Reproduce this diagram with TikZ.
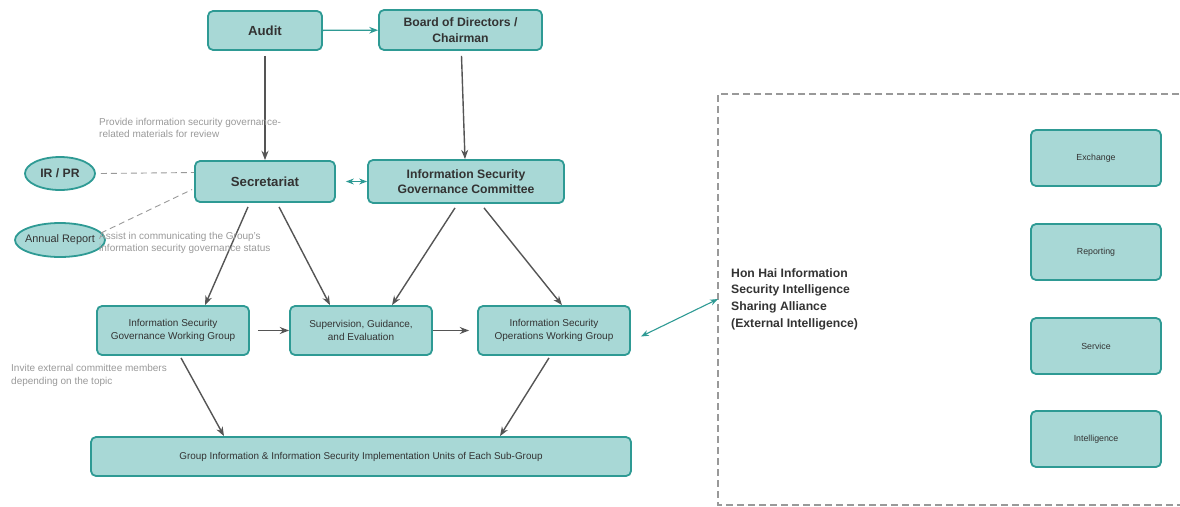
\documentclass[tikz,border=0pt]{standalone}
\usepackage{fontspec}
\setmainfont{Liberation Sans}
\usetikzlibrary{shapes.geometric,arrows.meta}
\definecolor{boxfill}{HTML}{A8D8D6}
\definecolor{boxline}{HTML}{2E9A94}
\definecolor{txt}{HTML}{333333}
\definecolor{arr}{HTML}{555555}
\definecolor{note}{HTML}{999999}
\newcommand{\fs}[1]{\fontsize{#1}{#1}\selectfont}
\begin{document}
\begin{tikzpicture}[x=1pt,y=-1pt,>=Stealth,
  box/.style={draw=boxline,fill=boxfill,line width=1.8pt,rounded corners=5pt,
    text=txt,align=center,inner sep=0pt},
  oval/.style={ellipse,draw=boxline,fill=boxfill,line width=1.8pt,text=txt,inner xsep=-8pt,inner ysep=0pt},
  flow/.style={->,arr,line width=1.4pt},
  link/.style={->,boxline,line width=1.3pt},
  hint/.style={note,line width=0.9pt,dash pattern=on 6pt off 4pt},
  memo/.style={note,align=left,anchor=north west,inner sep=0pt,font=\fs{10}}]
  \clip (0,0) rectangle (1180,506);
  \useasboundingbox (0,0) rectangle (1180,506);
  % 上层
  \node[box,minimum width=114pt,minimum height=39pt,font=\fs{13.2}\bfseries] (audit) at (265,30.5) {Audit};
  \node[box,minimum width=163pt,minimum height=40pt,font=\fs{12.2}\bfseries] (board) at (460.5,30) {Board of Directors /\\[3.5pt]Chairman};
  \node[box,minimum width=140pt,minimum height=41pt,font=\fs{13.2}\bfseries] (secr) at (265,181.5) {Secretariat};
  \node[box,minimum width=196pt,minimum height=43pt,font=\fs{12.2}\bfseries] (isgc) at (466,181.5) {Information Security\\[3pt]Governance Committee};
  % 椭圆
  \node[oval,minimum width=70pt,minimum height=33pt,font=\fs{12.2}\bfseries] (irpr) at (60,173.5) {IR / PR};
  \node[oval,minimum width=90pt,minimum height=34pt,font=\fs{10.9}] (annual) at (60,240) {Annual Report};
  % 工作组
  \node[box,minimum width=152pt,minimum height=49pt,font=\fs{10}] (isgwg) at (173,330.5) {Information Security\\[3.5pt]Governance Working Group};
  \node[box,minimum width=142pt,minimum height=49pt,font=\fs{10}] (sge) at (361,330.5) {Supervision, Guidance,\\[3.5pt]and Evaluation};
  \node[box,minimum width=152pt,minimum height=49pt,font=\fs{10}] (isowg) at (554,330.5) {Information Security\\[3.5pt]Operations Working Group};
  \node[box,minimum width=540pt,minimum height=39pt,font=\fs{9.9}] (units) at (361,456.5) {Group Information \& Information Security Implementation Units of Each Sub-Group};
  % 外部联盟
  \draw[note,line width=1.2pt,dash pattern=on 7pt off 4pt] (1190,94) -- (718,94) -- (718,505) -- (1190,505);
  \coordinate (edge) at (718,299);
  \node[anchor=north west,align=left,inner sep=0pt,text=txt,font=\fs{12.2}\bfseries] (alliance) at (731,268)
    {Hon Hai Information\\[4.6pt]Security Intelligence\\[4.6pt]Sharing Alliance\\[4.6pt](External Intelligence)};
  \foreach \y/\t/\n in {158/Exchange/exch,252/Reporting/rep,346/Service/serv,439/Intelligence/intel}
    \node[box,minimum width=130pt,minimum height=56pt,font=\fs{8.8}] (\n) at (1096,\y) {\t};
  % 连线
  \draw[link] (audit) -- (board);
  \draw[flow] ([yshift=-5pt]audit.south) -- (secr.north);
  \draw[flow] ([xshift=1pt,yshift=-5pt]board.south) -- ([xshift=-1pt]isgc.north);
  \draw[link,<->,line width=1.1pt] ([xshift=10pt]secr.east) -- (isgc.west);
  \draw[flow] ([xshift=-17pt,yshift=-4pt]secr.south) -- ([xshift=32pt]isgwg.north);
  \draw[flow] ([xshift=14pt,yshift=-4pt]secr.south) -- ([xshift=-31pt]sge.north);
  \draw[flow] ([xshift=-11pt,yshift=-4pt]isgc.south) -- ([xshift=31pt]sge.north);
  \draw[flow] ([xshift=18pt,yshift=-4pt]isgc.south) -- ([xshift=8pt]isowg.north);
  \draw[flow] ([xshift=8pt]isgwg.east) -- (sge.west);
  \draw[flow] (sge.east) -- ([xshift=-8pt]isowg.west);
  \draw[flow] ([xshift=8pt,yshift=-2pt]isgwg.south) -- ([xshift=-137pt]units.north);
  \draw[flow] ([xshift=-5pt,yshift=-2pt]isowg.south) -- ([xshift=139pt]units.north);
  \draw[link,<->,line width=1.1pt] ([xshift=10pt,yshift=-6pt]isowg.east) -- (edge);
  % 虚线
  \draw[hint] ([xshift=5pt]irpr.east) -- ([yshift=9pt]secr.west);
  \draw[hint] ([xshift=-5pt,yshift=7pt]annual.east) -- ([yshift=-8pt,xshift=-2pt]secr.west);
  % 注释
  \node[memo] (n1) at (99,118.5) {Provide information security governance-\\[1.5pt]related materials for review};
  \node[memo] (n2) at (99,232.5) {Assist in communicating the Group's\\[1.5pt]information security governance status};
  \node[memo] (n3) at (11,364.5) {Invite external committee members\\[2.5pt]depending on the topic};
\end{tikzpicture}
\end{document}
